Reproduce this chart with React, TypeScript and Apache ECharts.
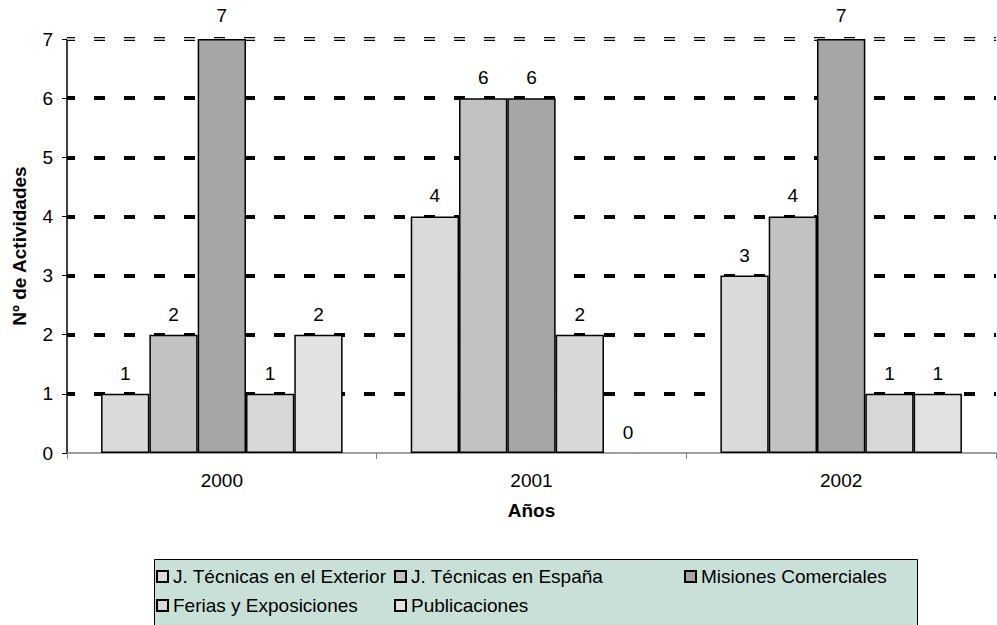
import React, { useEffect, useRef } from 'react';
import * as echarts from 'echarts';

const categories = ['2000', '2001', '2002'];
const seriesNames = [
  'J. Técnicas en el Exterior',
  'J. Técnicas en España',
  'Misiones Comerciales',
  'Ferias y Exposiciones',
  'Publicaciones',
];
const exterior = [1, 4, 3];
const espana = [2, 6, 4];
const misiones = [7, 6, 7];
const ferias = [1, 2, 1];
const publicaciones = [2, 0, 1];
const gridLevels = [1, 2, 3, 4, 5, 6, 7];
const topLevel = 7;

const FONT = '"Liberation Sans", Arial, Helvetica, sans-serif';

export default function App() {
  const ref = useRef<HTMLDivElement>(null);
  useEffect(() => {
    const chart = echarts.init(ref.current!, null, { renderer: 'svg' });
    const values = [exterior, espana, misiones, ferias, publicaciones];
    const barColors = ['#dadada', '#c2c2c2', '#a6a6a6', '#d8d8d8', '#e2e2e2'];
    const bars = seriesNames.map((name, i) => ({
      type: 'bar',
      name,
      z: 2,
      data: values[i].map((v) => {
        if (v === topLevel) return { value: v, label: { distance: 14 } };
        if (v === 0) return { value: v, itemStyle: { borderWidth: 0 } };
        return v;
      }),
      barGap: '0%',
      barCategoryGap: '22%',
      itemStyle: { color: barColors[i], borderColor: '#000', borderWidth: 1.5 },
      label: {
        show: true,
        position: 'top',
        distance: 11,
        color: '#000',
        fontSize: 19,
        fontFamily: FONT,
      },
    }));
    const legendCommon = {
      orient: 'vertical',
      top: 567,
      padding: 0,
      itemWidth: 11,
      itemHeight: 11,
      itemGap: 10,
      icon: 'rect',
      selectedMode: false,
      textStyle: { fontSize: 19, fontFamily: FONT, color: '#000', lineHeight: 19 },
    };
    chart.setOption({
      animation: false,
      backgroundColor: '#fff',
      textStyle: { fontFamily: FONT },
      grid: { left: 67, right: 1, top: 39, bottom: 172, containLabel: false },
      xAxis: {
        type: 'category',
        data: categories,
        axisLine: { show: true, lineStyle: { color: '#808080', width: 1.5 } },
        axisTick: { show: true, length: 6, lineStyle: { color: '#808080' } },
        axisLabel: { color: '#000', fontSize: 19, fontFamily: FONT, margin: 18 },
        splitLine: { show: false },
        name: 'Años',
        nameLocation: 'middle',
        nameGap: 48,
        nameTextStyle: { color: '#000', fontSize: 19, fontWeight: 'bold', fontFamily: FONT },
      },
      yAxis: {
        type: 'value',
        min: 0,
        max: 7,
        interval: 1,
        axisLine: { show: true, lineStyle: { color: '#000', width: 1.5 } },
        axisTick: { show: true, length: 5, lineStyle: { color: '#000' } },
        axisLabel: { color: '#000', fontSize: 19, fontFamily: FONT, margin: 14 },
        splitLine: { show: false },
        name: 'Nº de Actividades',
        nameLocation: 'middle',
        nameGap: 38,
        nameRotate: 90,
        nameTextStyle: { color: '#000', fontSize: 19, fontWeight: 'bold', fontFamily: FONT },
      },
      legend: [
        { ...legendCommon, left: 156, data: [seriesNames[0], seriesNames[3]] },
        { ...legendCommon, left: 394, data: [seriesNames[1], seriesNames[4]] },
        { ...legendCommon, left: 684, data: [seriesNames[2]] },
      ],
      graphic: [
        {
          type: 'rect',
          z: 0,
          silent: true,
          shape: { x: 154.5, y: 559.5, width: 763, height: 80 },
          style: { fill: '#c9e0d8', stroke: '#000', lineWidth: 1 },
        },
      ],
      series: [
        {
          type: 'line',
          name: '_grid',
          data: [],
          silent: true,
          markLine: {
            z: 1,
            silent: true,
            symbol: 'none',
            label: { show: false },
            lineStyle: { color: '#000', width: 4, type: [11, 19], dashOffset: 3 },
            data: gridLevels.map((v) => ({ yAxis: v })),
          },
        },
        {
          type: 'line',
          name: '_gridTop',
          data: [],
          silent: true,
          markLine: {
            z: 1.5,
            silent: true,
            symbol: 'none',
            label: { show: false },
            lineStyle: { color: '#fff', width: 1.5, type: [11, 19], dashOffset: 3 },
            data: [{ yAxis: topLevel }],
          },
        },
        ...bars,
      ],
    } as any);
    return () => chart.dispose();
  }, []);
  return (
    <div
      ref={ref}
      style={{ position: 'absolute', left: 0, top: 0, width: 997, height: 625 }}
    />
  );
}
